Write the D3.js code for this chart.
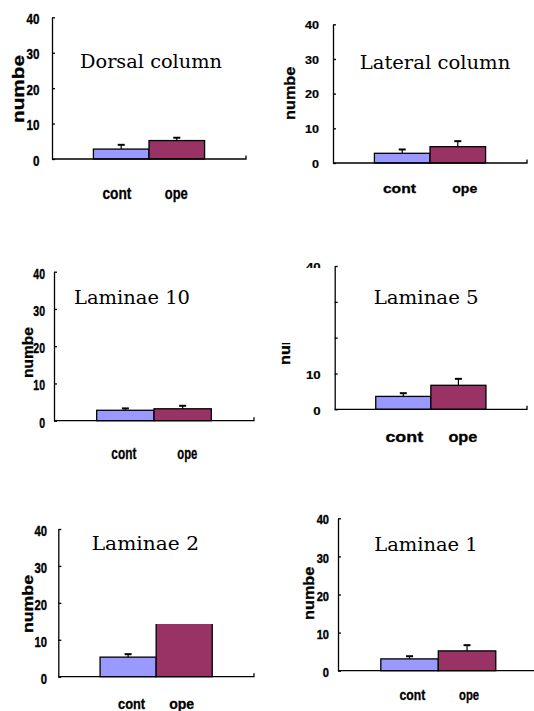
<!DOCTYPE html>
<html>
<head>
<meta charset="utf-8">
<script src="https://cdn.jsdelivr.net/npm/d3@7"></script>
<style>
  body { margin: 0; background: #fff; }
</style>
</head>
<body>
<div id="chart"></div>
<script>
// chart values, one entry per panel
var titles = ["Dorsal column", "Lateral column", "Laminae 10", "Laminae 5", "Laminae 2", "Laminae 1"];
var groups = ["cont", "ope"];
var contMean = [2.8, 2.8, 2.8, 3.6, 5.3, 3.1];
var contErr = [1.2, 1.1, 0.5, 0.9, 0.8, 0.7];
var opeMean = [5.2, 4.7, 3.2, 6.7, 15.0, 5.2];
var opeErr = [0.8, 1.6, 0.8, 1.8, null, 1.5];
var yTicks = [0, 10, 20, 30, 40];
var yLabel = "numbe";

var colors = {cont: "#9999ff", ope: "#993366"};
var sans = "'Liberation Sans', Arial, sans-serif";

// where each pasted panel sits on the page (they were all stretched differently)
var layout = [
  {ax: 52, top: 17.3, base: 159, right: 246,
   tick: {fs: 14.5, sx: 0.8, gap: 12.5, heavy: 0.4},
   cat: {fs: 17, base: 199, len: [29, 23], dx: [-4.3, -0.5]},
   title: {x: 80, y: 68, len: 142},
   ylab: {x: 23.5, y0: 55, y1: 123, fs: 16}},
  {ax: 333, top: 24.3, base: 163, right: 527,
   tick: {fs: 10, sx: 1.26, gap: 14, heavy: 0.2},
   cat: {fs: 13, base: 193, len: [33, 25], dx: [-2.8, 7]},
   title: {x: 359.7, y: 69.3, len: 150.6},
   ylab: {x: 295.3, y0: 66.7, y1: 120, fs: 14}},
  {ax: 54, top: 271.7, base: 420.7, right: 254,
   tick: {fs: 15, sx: 0.7, gap: 9, heavy: 0.4},
   cat: {fs: 16, base: 459, len: [25, 20], dx: [-1.5, 4.7]},
   title: {x: 74, y: 304.3, len: 116},
   ylab: {x: 33.3, y0: 327, y1: 378, fs: 14}},
  {ax: 334.7, top: 266, base: 409.3, right: 527,
   tick: {fs: 11.5, sx: 1.15, gap: 14, heavy: 0.2},
   cat: {fs: 15, base: 442, len: [37.7, 29], dx: [1, 4.5]},
   title: {x: 373.7, y: 304.3, len: 105},
   ylab: {x: 290.3, y0: 312, y1: 365, fs: 14},
   mask: [276, 268, 55, 75]},
  {ax: 58.3, top: 529, base: 676.7, right: 254,
   tick: {fs: 15, sx: 0.75, gap: 11.3, heavy: 0.4},
   cat: {fs: 15, base: 709, len: [27, 25], dx: [3.5, -2.5]},
   title: {x: 91.7, y: 550, len: 107.3},
   ylab: {x: 33.3, y0: 575, y1: 633, fs: 15},
   mask: [75, 524, 150, 100]},
  {ax: 338, top: 518.3, base: 670.7, right: 538.6,
   tick: {fs: 13.5, sx: 0.82, gap: 9, heavy: 0.4},
   cat: {fs: 14, base: 700, len: [25.7, 20], dx: [2.8, 2]},
   title: {x: 374.3, y: 550.7, len: 103.4},
   ylab: {x: 313.7, y0: 566.7, y1: 620, fs: 14}}
];

var svg = d3.select("#chart")
  .append("svg")
  .attr("width", 534)
  .attr("height", 711);

svg.append("rect").attr("width", 534).attr("height", 711).attr("fill", "#fff");

layout.forEach(function(L, i) {
  var g = svg.append("g");

  var y = d3.scaleLinear().domain([0, 40]).range([L.base, L.top]);
  var x = d3.scaleBand().domain(groups).range([L.ax, L.right])
    .paddingInner(0).paddingOuter(0.745);

  var rows = [
    {k: "cont", v: contMean[i], e: contErr[i]},
    {k: "ope", v: opeMean[i], e: opeErr[i]}
  ];

  // bars
  g.selectAll("rect.bar")
    .data(rows)
    .enter()
    .append("rect")
    .attr("class", "bar")
    .attr("x", d => x(d.k))
    .attr("y", d => y(d.v))
    .attr("width", x.bandwidth())
    .attr("height", d => y(0) - y(d.v))
    .attr("fill", d => colors[d.k])
    .attr("stroke", "#000")
    .attr("stroke-width", 1.3);

  // error bars (upper only)
  var eb = rows.filter(d => d.e != null);
  g.selectAll("line.stem")
    .data(eb)
    .enter()
    .append("line")
    .attr("x1", d => x(d.k) + x.bandwidth() / 2)
    .attr("x2", d => x(d.k) + x.bandwidth() / 2)
    .attr("y1", d => y(d.v))
    .attr("y2", d => y(d.v + d.e))
    .attr("stroke", "#000")
    .attr("stroke-width", 1.2);
  g.selectAll("line.cap")
    .data(eb)
    .enter()
    .append("line")
    .attr("x1", d => x(d.k) + x.bandwidth() / 2 - 3.5)
    .attr("x2", d => x(d.k) + x.bandwidth() / 2 + 3.5)
    .attr("y1", d => y(d.v + d.e))
    .attr("y2", d => y(d.v + d.e))
    .attr("stroke", "#000")
    .attr("stroke-width", 2);

  // y axis, ticks pointing inward
  var yAxis = g.append("g")
    .attr("transform", `translate(${L.ax},0)`)
    .call(d3.axisLeft(y).tickValues(yTicks).tickSizeInner(-3).tickSizeOuter(0).tickPadding(0));
  yAxis.select(".domain").attr("stroke-width", 1.3);
  yAxis.selectAll(".tick line").attr("stroke-width", 1.3);
  yAxis.selectAll("text")
    .style("font-family", sans)
    .style("font-weight", "bold")
    .style("font-size", L.tick.fs + "px")
    .attr("fill", "#000")
    .attr("stroke", "#000")
    .attr("stroke-width", L.tick.heavy)
    .attr("x", -L.tick.gap / L.tick.sx)
    .attr("dy", "0.42em")
    .attr("transform", `scale(${L.tick.sx},1)`);

  // category axis line with the small end tick
  g.append("path")
    .attr("d", `M${L.ax},${y(0)}H${L.right}V${y(0) - 3.5}`)
    .attr("fill", "none")
    .attr("stroke", "#000")
    .attr("stroke-width", 1.3);

  // category labels
  g.selectAll("text.cat")
    .data(groups)
    .enter()
    .append("text")
    .attr("class", "cat")
    .attr("x", (d, j) => x(d) + x.bandwidth() / 2 + L.cat.dx[j])
    .attr("y", L.cat.base)
    .attr("text-anchor", "middle")
    .style("font-family", sans)
    .style("font-weight", "bold")
    .style("font-size", L.cat.fs + "px")
    .attr("stroke", "#000")
    .attr("stroke-width", 0.3)
    .attr("textLength", (d, j) => L.cat.len[j])
    .attr("lengthAdjust", "spacingAndGlyphs")
    .text(d => d);

  // y label
  g.append("text")
    .attr("transform", `translate(${L.ylab.x},${(L.ylab.y0 + L.ylab.y1) / 2}) rotate(-90)`)
    .attr("text-anchor", "middle")
    .style("font-family", sans)
    .style("font-weight", "bold")
    .style("font-size", L.ylab.fs + "px")
    .attr("stroke", "#000")
    .attr("stroke-width", 0.3)
    .attr("textLength", L.ylab.y1 - L.ylab.y0)
    .attr("lengthAdjust", "spacingAndGlyphs")
    .text(yLabel);

  // white text boxes that cover parts of some panels
  if (L.mask) {
    g.append("rect")
      .attr("x", L.mask[0]).attr("y", L.mask[1])
      .attr("width", L.mask[2]).attr("height", L.mask[3])
      .attr("fill", "#fff");
  }

  // panel title
  g.append("text")
    .attr("x", L.title.x)
    .attr("y", L.title.y)
    .style("font-family", "'DejaVu Serif', serif")
    .style("font-size", "18px")
    .attr("textLength", L.title.len)
    .attr("lengthAdjust", "spacingAndGlyphs")
    .text(titles[i]);
});
</script>
</body>
</html>
